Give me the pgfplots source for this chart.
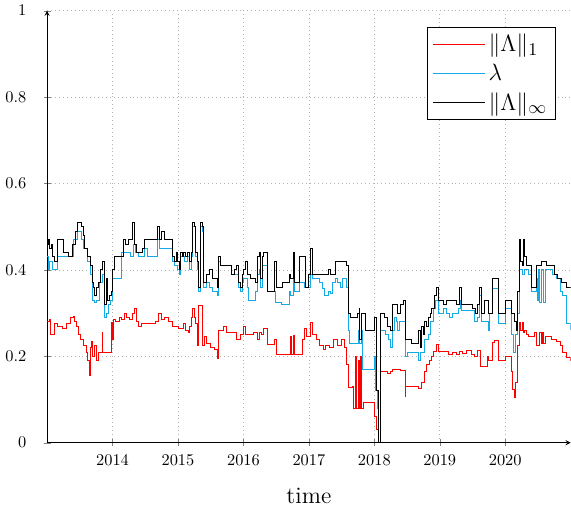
\documentclass[border=0pt]{standalone}
\usepackage{pgfplots}
\pgfplotsset{compat=1.18}
\definecolor{lblue}{RGB}{20,170,230}
\begin{document}
\begin{tikzpicture}
\begin{axis}[
  scale only axis,
  width=320pt, height=264pt,
  axis lines=left,
  tick align=center,
  xmin=2013, xmax=2021, ymin=0, ymax=1,
  xtick={2014,2015,2016,2017,2018,2019,2020},
  ytick={0,0.2,0.4,0.6,0.8,1},
  x tick label style={/pgf/number format/1000 sep={}},
  yticklabel style={xshift=-7pt},
  xticklabel style={yshift=-2pt},
  grid=major,
  grid style={dotted, gray!60},
  xlabel={\Large time},
  xlabel style={yshift=-7pt},
  legend style={font=\fontsize{15}{18}\selectfont, at={(0.971,0.962)}, anchor=north east, cells={anchor=west}, row sep=2pt},
  legend image code/.code={\draw[#1] (0cm,0cm) -- (1.0cm,0cm); \path (0cm,0cm) -- (1.12cm,0cm);},
  every axis plot/.append style={line width=0.55pt, const plot},
]
\addplot[red] coordinates {
(2013.00,0.28) (2013.03,0.285) (2013.05,0.25) (2013.09,0.25) (2013.11,0.275) (2013.16,0.27) (2013.23,0.265) (2013.30,0.275) (2013.35,0.29) (2013.40,0.293) (2013.42,0.28) (2013.45,0.27) (2013.48,0.25) (2013.51,0.24) (2013.55,0.225) (2013.60,0.21) (2013.62,0.19) (2013.64,0.155) (2013.66,0.22) (2013.68,0.235) (2013.70,0.20) (2013.73,0.225) (2013.75,0.19) (2013.78,0.21) (2013.82,0.21) (2013.84,0.255) (2013.85,0.21) (2013.95,0.21) (2013.99,0.278) (2014.00,0.24) (2014.02,0.285) (2014.05,0.28) (2014.10,0.29) (2014.14,0.285) (2014.18,0.30) (2014.22,0.29) (2014.26,0.285) (2014.30,0.30) (2014.33,0.31) (2014.36,0.28) (2014.40,0.27) (2014.44,0.275) (2014.60,0.275) (2014.66,0.28) (2014.70,0.30) (2014.74,0.285) (2014.80,0.29) (2014.86,0.28) (2014.92,0.27) (2014.98,0.27) (2015.00,0.265) (2015.08,0.275) (2015.12,0.26) (2015.16,0.255) (2015.18,0.27) (2015.20,0.29) (2015.22,0.31) (2015.25,0.29) (2015.27,0.275) (2015.30,0.225) (2015.32,0.317) (2015.37,0.225) (2015.40,0.245) (2015.43,0.23) (2015.50,0.22) (2015.56,0.215) (2015.60,0.195) (2015.62,0.26) (2015.70,0.27) (2015.74,0.255) (2015.80,0.255) (2015.90,0.24) (2015.95,0.25) (2016.00,0.27) (2016.03,0.25) (2016.08,0.25) (2016.16,0.255) (2016.21,0.24) (2016.24,0.255) (2016.28,0.25) (2016.31,0.265) (2016.36,0.228) (2016.47,0.24) (2016.50,0.205) (2016.70,0.205) (2016.72,0.245) (2016.74,0.205) (2016.76,0.248) (2016.78,0.205) (2016.88,0.205) (2016.90,0.24) (2016.93,0.265) (2016.96,0.247) (2017.03,0.278) (2017.06,0.25) (2017.12,0.238) (2017.16,0.224) (2017.22,0.216) (2017.26,0.225) (2017.32,0.22) (2017.38,0.24) (2017.44,0.224) (2017.50,0.24) (2017.55,0.22) (2017.58,0.18) (2017.61,0.127) (2017.66,0.13) (2017.68,0.08) (2017.71,0.20) (2017.72,0.08) (2017.75,0.19) (2017.77,0.08) (2017.79,0.20) (2017.81,0.08) (2017.84,0.093) (2017.98,0.093) (2018.00,0.06) (2018.03,0.03) (2018.06,0.00) (2018.10,0.166) (2018.20,0.16) (2018.24,0.166) (2018.28,0.17) (2018.36,0.17) (2018.40,0.168) (2018.47,0.108) (2018.48,0.13) (2018.68,0.125) (2018.72,0.14) (2018.77,0.166) (2018.80,0.18) (2018.84,0.19) (2018.87,0.20) (2018.90,0.212) (2018.95,0.228) (2018.98,0.212) (2019.10,0.212) (2019.14,0.205) (2019.20,0.21) (2019.25,0.205) (2019.30,0.212) (2019.35,0.207) (2019.40,0.213) (2019.48,0.205) (2019.53,0.20) (2019.58,0.214) (2019.62,0.177) (2019.73,0.20) (2019.75,0.19) (2019.81,0.232) (2019.84,0.236) (2019.90,0.19) (2020.01,0.20) (2020.09,0.166) (2020.11,0.123) (2020.14,0.104) (2020.16,0.14) (2020.19,0.224) (2020.21,0.278) (2020.23,0.26) (2020.26,0.278) (2020.28,0.255) (2020.30,0.26) (2020.33,0.25) (2020.36,0.245) (2020.45,0.255) (2020.48,0.225) (2020.53,0.255) (2020.55,0.23) (2020.57,0.255) (2020.59,0.23) (2020.62,0.245) (2020.70,0.24) (2020.78,0.235) (2020.84,0.225) (2020.88,0.21) (2020.93,0.197) (2021.00,0.19)
};
\addlegendentry{$\|\Lambda\|_1$}
\addplot[lblue] coordinates {
(2013.00,0.43) (2013.02,0.40) (2013.04,0.42) (2013.08,0.40) (2013.16,0.43) (2013.30,0.43) (2013.41,0.47) (2013.46,0.49) (2013.52,0.47) (2013.56,0.45) (2013.62,0.42) (2013.66,0.39) (2013.70,0.33) (2013.73,0.325) (2013.76,0.33) (2013.80,0.37) (2013.84,0.39) (2013.87,0.29) (2013.90,0.30) (2013.93,0.32) (2013.97,0.33) (2014.00,0.38) (2014.08,0.38) (2014.13,0.44) (2014.20,0.44) (2014.28,0.43) (2014.32,0.46) (2014.35,0.44) (2014.40,0.43) (2014.48,0.45) (2014.53,0.43) (2014.68,0.47) (2014.72,0.45) (2014.76,0.45) (2014.85,0.45) (2014.91,0.42) (2014.94,0.41) (2014.99,0.40) (2015.02,0.39) (2015.04,0.43) (2015.10,0.42) (2015.15,0.43) (2015.17,0.40) (2015.20,0.43) (2015.22,0.50) (2015.27,0.43) (2015.30,0.40) (2015.32,0.35) (2015.34,0.50) (2015.38,0.49) (2015.39,0.36) (2015.43,0.37) (2015.48,0.36) (2015.53,0.35) (2015.58,0.35) (2015.61,0.34) (2015.62,0.42) (2015.65,0.41) (2015.80,0.41) (2015.82,0.39) (2015.90,0.39) (2015.93,0.36) (2015.95,0.35) (2015.98,0.37) (2016.00,0.38) (2016.06,0.36) (2016.08,0.33) (2016.19,0.35) (2016.21,0.39) (2016.24,0.40) (2016.26,0.36) (2016.29,0.41) (2016.36,0.35) (2016.47,0.35) (2016.49,0.325) (2016.58,0.32) (2016.69,0.32) (2016.70,0.35) (2016.72,0.34) (2016.76,0.39) (2016.78,0.35) (2016.85,0.37) (2016.93,0.36) (2016.96,0.36) (2017.03,0.39) (2017.06,0.38) (2017.16,0.37) (2017.20,0.356) (2017.24,0.34) (2017.30,0.35) (2017.33,0.345) (2017.36,0.37) (2017.40,0.38) (2017.44,0.37) (2017.48,0.36) (2017.52,0.38) (2017.58,0.36) (2017.60,0.26) (2017.62,0.23) (2017.70,0.23) (2017.76,0.26) (2017.78,0.23) (2017.80,0.26) (2017.82,0.17) (2017.95,0.17) (2018.00,0.20) (2018.02,0.12) (2018.04,0.08) (2018.06,0.00) (2018.10,0.26) (2018.17,0.25) (2018.22,0.24) (2018.24,0.22) (2018.27,0.26) (2018.30,0.29) (2018.34,0.28) (2018.36,0.26) (2018.39,0.28) (2018.44,0.28) (2018.47,0.20) (2018.50,0.21) (2018.66,0.21) (2018.68,0.19) (2018.70,0.21) (2018.74,0.21) (2018.77,0.24) (2018.82,0.25) (2018.86,0.28) (2018.90,0.31) (2018.94,0.33) (2018.98,0.30) (2019.05,0.31) (2019.10,0.30) (2019.15,0.29) (2019.20,0.30) (2019.28,0.31) (2019.31,0.33) (2019.33,0.305) (2019.53,0.28) (2019.57,0.29) (2019.60,0.34) (2019.63,0.28) (2019.70,0.28) (2019.74,0.26) (2019.76,0.30) (2019.81,0.356) (2019.90,0.275) (2020.01,0.31) (2020.09,0.25) (2020.12,0.21) (2020.15,0.25) (2020.19,0.30) (2020.21,0.40) (2020.26,0.39) (2020.30,0.40) (2020.36,0.39) (2020.40,0.35) (2020.47,0.38) (2020.49,0.33) (2020.51,0.40) (2020.53,0.325) (2020.56,0.40) (2020.59,0.325) (2020.62,0.40) (2020.68,0.40) (2020.72,0.39) (2020.78,0.38) (2020.84,0.35) (2020.88,0.34) (2020.93,0.275) (2021.00,0.26)
};
\addlegendentry{$\lambda$}
\addplot[black] coordinates {
(2013.00,0.46) (2013.02,0.47) (2013.04,0.45) (2013.06,0.46) (2013.08,0.43) (2013.12,0.42) (2013.16,0.47) (2013.25,0.44) (2013.32,0.43) (2013.39,0.46) (2013.43,0.49) (2013.46,0.51) (2013.52,0.50) (2013.55,0.48) (2013.57,0.45) (2013.62,0.43) (2013.66,0.41) (2013.69,0.37) (2013.71,0.36) (2013.73,0.34) (2013.76,0.36) (2013.79,0.37) (2013.81,0.40) (2013.85,0.42) (2013.88,0.32) (2013.90,0.38) (2013.92,0.33) (2013.95,0.34) (2013.98,0.35) (2014.00,0.40) (2014.03,0.43) (2014.12,0.43) (2014.16,0.47) (2014.20,0.46) (2014.24,0.47) (2014.28,0.47) (2014.31,0.51) (2014.34,0.46) (2014.37,0.44) (2014.45,0.45) (2014.48,0.47) (2014.53,0.47) (2014.61,0.47) (2014.68,0.50) (2014.72,0.47) (2014.75,0.49) (2014.79,0.47) (2014.89,0.47) (2014.91,0.43) (2014.94,0.42) (2014.97,0.44) (2014.99,0.42) (2015.02,0.40) (2015.04,0.44) (2015.07,0.43) (2015.09,0.44) (2015.12,0.43) (2015.15,0.44) (2015.17,0.42) (2015.20,0.44) (2015.22,0.51) (2015.25,0.50) (2015.27,0.44) (2015.30,0.42) (2015.32,0.36) (2015.34,0.51) (2015.38,0.50) (2015.39,0.37) (2015.43,0.39) (2015.48,0.40) (2015.53,0.38) (2015.58,0.38) (2015.61,0.36) (2015.62,0.43) (2015.65,0.41) (2015.78,0.41) (2015.82,0.39) (2015.87,0.40) (2015.90,0.41) (2015.93,0.37) (2015.95,0.36) (2015.98,0.39) (2016.00,0.40) (2016.03,0.42) (2016.06,0.39) (2016.10,0.38) (2016.16,0.38) (2016.19,0.37) (2016.21,0.43) (2016.24,0.44) (2016.26,0.38) (2016.29,0.43) (2016.31,0.44) (2016.35,0.44) (2016.36,0.35) (2016.47,0.42) (2016.50,0.36) (2016.60,0.37) (2016.69,0.37) (2016.70,0.39) (2016.72,0.38) (2016.76,0.44) (2016.78,0.37) (2016.85,0.43) (2016.93,0.43) (2016.94,0.36) (2016.99,0.39) (2017.03,0.45) (2017.06,0.39) (2017.20,0.39) (2017.25,0.39) (2017.30,0.40) (2017.33,0.39) (2017.40,0.42) (2017.45,0.42) (2017.50,0.42) (2017.57,0.41) (2017.60,0.30) (2017.64,0.29) (2017.70,0.29) (2017.74,0.30) (2017.77,0.31) (2017.78,0.24) (2017.80,0.30) (2017.82,0.30) (2017.86,0.26) (2017.95,0.26) (2018.00,0.29) (2018.03,0.12) (2018.06,0.00) (2018.10,0.30) (2018.15,0.29) (2018.20,0.27) (2018.24,0.26) (2018.28,0.32) (2018.33,0.32) (2018.36,0.30) (2018.40,0.32) (2018.44,0.33) (2018.47,0.24) (2018.57,0.23) (2018.68,0.26) (2018.70,0.22) (2018.72,0.27) (2018.75,0.25) (2018.77,0.28) (2018.80,0.27) (2018.82,0.29) (2018.85,0.30) (2018.88,0.31) (2018.92,0.34) (2018.95,0.36) (2018.98,0.33) (2019.05,0.32) (2019.10,0.33) (2019.18,0.33) (2019.25,0.32) (2019.30,0.36) (2019.33,0.32) (2019.50,0.31) (2019.54,0.30) (2019.58,0.32) (2019.60,0.36) (2019.63,0.30) (2019.68,0.33) (2019.75,0.30) (2019.81,0.38) (2019.90,0.30) (2020.01,0.33) (2020.09,0.30) (2020.14,0.28) (2020.17,0.26) (2020.19,0.35) (2020.21,0.47) (2020.23,0.42) (2020.26,0.41) (2020.28,0.47) (2020.30,0.43) (2020.33,0.41) (2020.40,0.36) (2020.47,0.41) (2020.55,0.42) (2020.63,0.41) (2020.68,0.41) (2020.75,0.39) (2020.80,0.38) (2020.86,0.37) (2020.93,0.36) (2021.00,0.36)
};
\addlegendentry{$\|\Lambda\|_\infty$\hspace{6pt}}
\end{axis}
\end{tikzpicture}
\end{document}
